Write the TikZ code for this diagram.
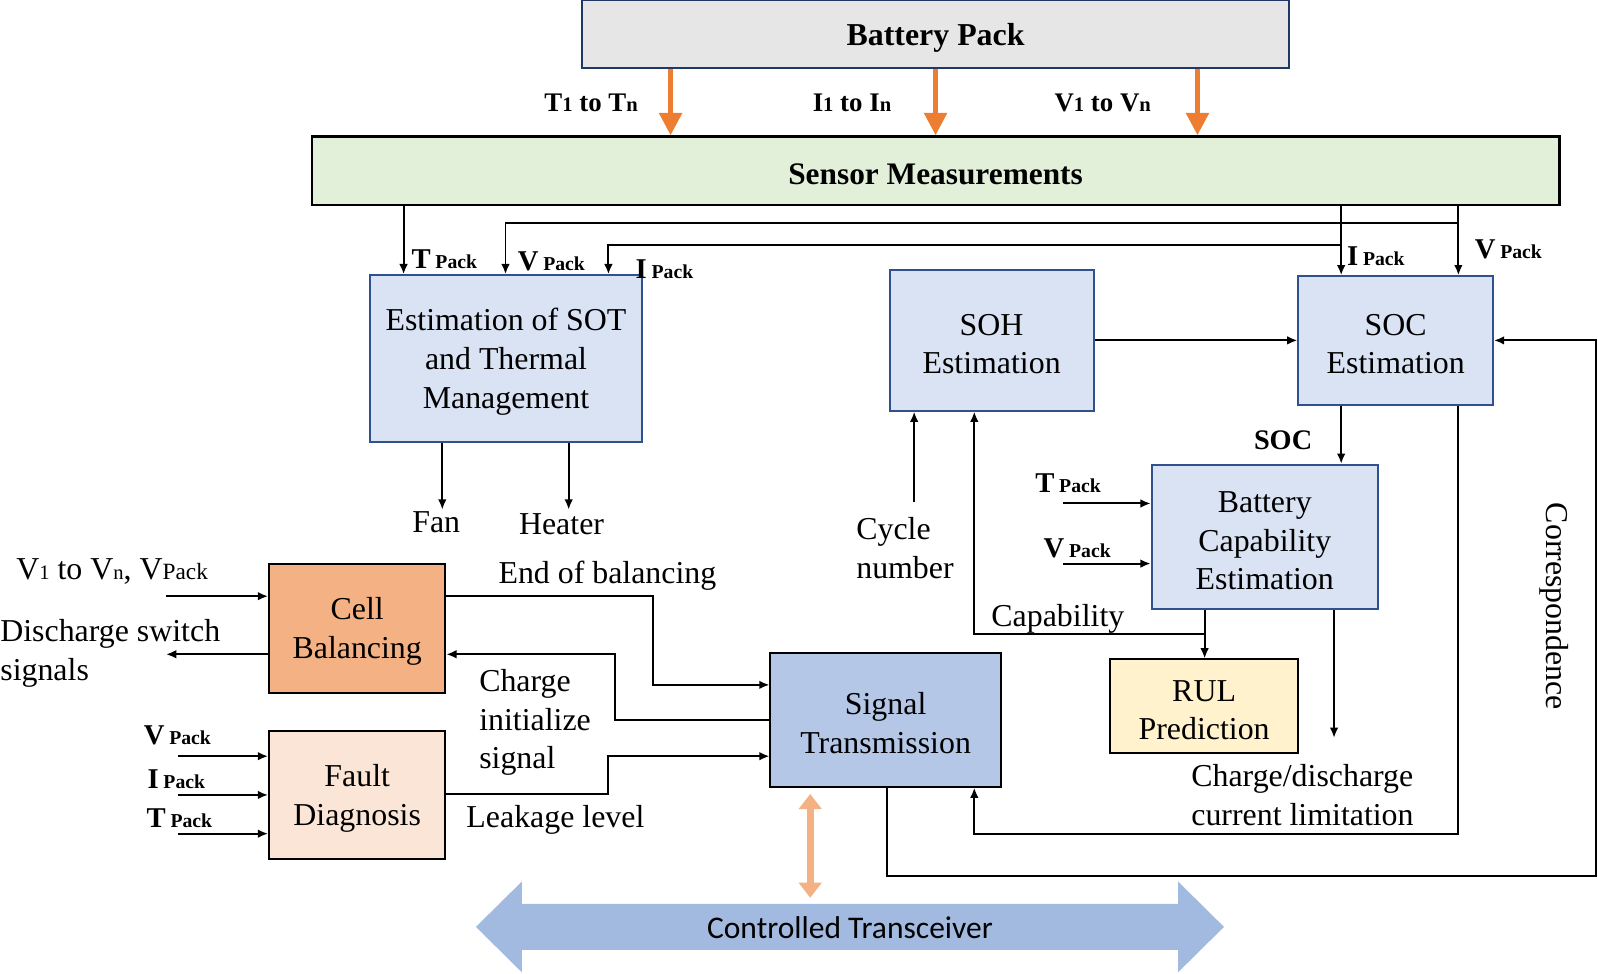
\documentclass[tikz,border=0pt]{standalone}
\usepackage{fontspec}
\setmainfont{Liberation Serif}
\newfontfamily\calfont{Carlito}
\usetikzlibrary{arrows.meta,calc}
\definecolor{bpgray}{HTML}{E7E6E6}
\definecolor{bpnavy}{HTML}{203864}
\definecolor{smgreen}{HTML}{E2F0D9}
\definecolor{estblue}{HTML}{DAE3F3}
\definecolor{estline}{HTML}{2F528F}
\definecolor{stblue}{HTML}{B4C7E7}
\definecolor{cbor}{HTML}{F4B183}
\definecolor{fdor}{HTML}{FBE5D6}
\definecolor{rulyel}{HTML}{FFF2CC}
\definecolor{arrorange}{HTML}{ED7D31}
\definecolor{ctblue}{HTML}{A2B9E0}
\newcommand{\pk}[1]{{\bfseries\fontsize{16}{18}\selectfont #1\,{\fontsize{11}{13}\selectfont Pack}}}
\newcommand{\sm}[1]{{\fontsize{11.5}{13}\selectfont #1}}
\newcommand{\fl}{\rule{0pt}{16pt}}
\begin{document}
\begin{tikzpicture}[x=0.2mm, y=-0.2mm, >={Latex[length=2mm,width=1.7mm]},
  box/.style={draw, line width=1.1pt, align=center, inner sep=0pt, font=\fontsize{17.8}{21.6}\selectfont},
  estbox/.style={box, draw=estline, fill=estblue},
  sz/.style 2 args={minimum width=#1*0.2mm, minimum height=#2*0.2mm},
  lbl/.style={inner sep=0pt, align=center, font=\fontsize{17.8}{21.6}\selectfont},
  hdr/.style={inner sep=0pt, font=\bfseries\fontsize{15}{17}\selectfont},
  wire/.style={line width=1.1pt},
  oarrow/.style={draw=arrorange, line width=2.6pt, -{Triangle[width=4.4mm,length=4.4mm]}}]
  \useasboundingbox (0,0) rectangle (1568,955);
  % 電池パックとセンサ
  \node[box, draw=bpnavy, fill=bpgray, sz={694}{67}, font=\bfseries\fontsize{17.8}{21.6}\selectfont] (bpack) at (918,33.5) {\fl Battery Pack};
  \node[box, line width=1.5pt, fill=smgreen, sz={1224}{67}, font=\bfseries\fontsize{17.5}{21.6}\selectfont] (sense) at (918,167.5) {\fl Sensor Measurements};
  \foreach \xo/\yo/\txt [count=\i] in {658/580/{T\sm{1} to T\sm{n}}, 918/836/{I\sm{1} to I\sm{n}}, 1175/1082/{V\sm{1} to V\sm{n}}} {
    \coordinate (o\i) at (\xo,0);
    \draw[oarrow] (bpack.south -| o\i) -- (sense.north -| o\i);
    \node[hdr] (olab\i) at (\yo,101) {\txt};
  }
  % 推定ブロック
  \node[estbox, sz={267}{164}] (sot) at (496.5,352) {\fl Estimation of SOT\\and Thermal\\Management};
  \node[estbox, sz={200}{138}] (soh) at (973,334) {\fl SOH\\Estimation};
  \node[estbox, sz={191}{126}] (soc) at (1369.5,334) {\fl SOC\\Estimation};
  \node[estbox, sz={222}{142}] (bce) at (1241,527) {\fl Battery\\Capability\\Estimation};
  \node[box, fill=rulyel, sz={185}{92}] (rul) at (1181.5,693) {\fl RUL\\Prediction};
  \node[box, fill=stblue, sz={226}{131}] (sigt) at (869,706.5) {\fl Signal\\Transmission};
  \node[box, fill=cbor, sz={173}{127}] (cellb) at (350.5,616.5) {\fl Cell\\Balancing};
  \node[box, fill=fdor, sz={173}{126}] (fault) at (350.5,780) {\fl Fault\\Diagnosis};
  % センサからの配線
  \coordinate (cT) at (396,0);
  \coordinate (cV) at (496,0);
  \coordinate (cI) at (597,0);
  \coordinate (cIr) at (1316,0);
  \coordinate (cVr) at (1431,0);
  \coordinate (rV) at (0,219);
  \coordinate (rI) at (0,240);
  \draw[wire,->] (sense.south -| cT) -- (sot.north -| cT);
  \draw[wire,->] (sense.south -| cIr) -- (soc.north -| cIr);
  \draw[wire,->] (sense.south -| cVr) -- (soc.north -| cVr);
  \draw[wire,->] (rV -| cVr) -- (rV -| cV) -- (sot.north -| cV);
  \draw[wire,->] (rI -| cIr) -- (rI -| cI) -- (sot.north -| cI);
  \node[inner sep=0pt] (ltp) at (436,254) {\pk{T}};
  \node[inner sep=0pt] (lvp) at (541,256) {\pk{V}};
  \node[inner sep=0pt] (lip) at (652,264) {\pk{I}};
  \node[inner sep=0pt] (lipr) at (1350,251) {\pk{I}};
  \node[inner sep=0pt] (lvpr) at (1480,245) {\pk{V}};
  % SOT の出力
  \coordinate (fan) at (434,500);
  \coordinate (heat) at (558,500);
  \draw[wire,->] (sot.south -| fan) -- (fan);
  \draw[wire,->] (sot.south -| heat) -- (heat);
  \node[lbl] (lfan) at (428,512) {Fan};
  \node[lbl] (lheat) at (551,514) {Heater};
  % SOH, SOC, 容量推定
  \draw[wire,->] (soh.east) -- (soh.east -| soc.west);
  \coordinate (cyc) at (897,493);
  \draw[wire,->] (cyc) -- (cyc |- soh.south);
  \node[lbl, align=left] (lcyc) at (888,538) {Cycle\\number};
  \draw[wire,->] (soc.south -| cIr) -- (bce.north -| cIr);
  \node[inner sep=0pt, font=\bfseries\fontsize{15.8}{18}\selectfont] (lsoc) at (1259,432) {SOC};
  \foreach \yy/\nm [count=\i] in {494/T, 553/V} {
    \coordinate (bi\i) at (1043,\yy);
    \draw[wire,->] (bi\i) -- (bi\i -| bce.west);
  }
  \node[inner sep=0pt] (lbt) at (1048,474) {\pk{T}};
  \node[inner sep=0pt] (lbv) at (1057,538) {\pk{V}};
  \coordinate (capX) at (1182,622);
  \coordinate (capL) at (956,622);
  \draw[wire,->] (bce.south -| capX) -- (rul.north -| capX);
  \draw[wire,->] (capX) -- (capL) -- (soh.south -| capL);
  \node[lbl] (lcap) at (1038,607) {Capability};
  \coordinate (cdl) at (1309,724);
  \draw[wire,->] (bce.south -| cdl) -- (cdl);
  \node[lbl, align=left] (lcdl) at (1278,780) {Charge/discharge\\current limitation};
  % 帰還線
  \coordinate (lpR) at (1431,818);
  \coordinate (lpL) at (956,818);
  \draw[wire,->] (soc.south -| lpR) -- (lpR) -- (lpL) -- (sigt.south -| lpL);
  \coordinate (crB) at (870,860);
  \coordinate (crR) at (1566,860);
  \draw[wire,->] (sigt.south -| crB) -- (crB) -- (crR) -- (crR |- soc.east) -- (soc.east);
  \node[lbl, rotate=-90] (lcor) at (1525,595) {Correspondence};
  % セルバランス
  \coordinate (cbin) at (163,585);
  \coordinate (cbout) at (163,642);
  \draw[wire,->] (cbin) -- (cbin -| cellb.west);
  \draw[wire,->] (cbout -| cellb.west) -- (cbout);
  \node[lbl] (lcbin) at (110,561) {V\sm{1} to V\sm{n}, V{\fontsize{13}{15}\selectfont Pack}};
  \node[lbl, align=left, anchor=west] (lcbout) at (0,641) {Discharge switch\\signals};
  \coordinate (eob) at (641,585);
  \coordinate (eobY) at (641,672);
  \draw[wire,->] (cellb.east |- eob) -- (eob) |- (sigt.west |- eobY);
  \node[lbl] (leob) at (596,565) {End of balancing};
  \coordinate (ciX) at (603,706);
  \draw[wire,->] (sigt.west |- ciX) -- (ciX) |- (cellb.east |- cbout);
  \node[lbl, align=left] (lci) at (525,709) {Charge\\initialize\\signal};
  \coordinate (llX) at (597,779);
  \coordinate (llY) at (597,742);
  \draw[wire,->] (fault.east |- llX) -- (llX) |- (sigt.west |- llY);
  \node[lbl] (lll) at (545,804) {Leakage level};
  % 故障診断の入力
  \foreach \yy/\nm [count=\i] in {742/V, 780/I, 818/T} {
    \coordinate (fi\i) at (175,\yy);
    \draw[wire,->] (fi\i) -- (fi\i -| fault.west);
  }
  \node[inner sep=0pt] (lfv) at (174,722) {\pk{V}};
  \node[inner sep=0pt] (lfi) at (173,765) {\pk{I}};
  \node[inner sep=0pt] (lft) at (176,803) {\pk{T}};
  % 送受信器
  \fill[ctblue] (467,909.5) -- (512,865) -- (512,887) -- (1156,887) -- (1156,865) -- (1201,909.5)
    -- (1156,954) -- (1156,932) -- (512,932) -- (512,954) -- cycle;
  \node[inner sep=0pt, font=\calfont\fontsize{17.6}{20}\selectfont] (ctr) at (834,910) {Controlled Transceiver};
  \coordinate (txA) at (795,779);
  \coordinate (txB) at (795,881);
  \draw[draw=cbor, line width=4pt, {Triangle[width=4.4mm,length=3mm]}-{Triangle[width=4.4mm,length=3mm]}] (txA) -- (txB);
\end{tikzpicture}
\end{document}
